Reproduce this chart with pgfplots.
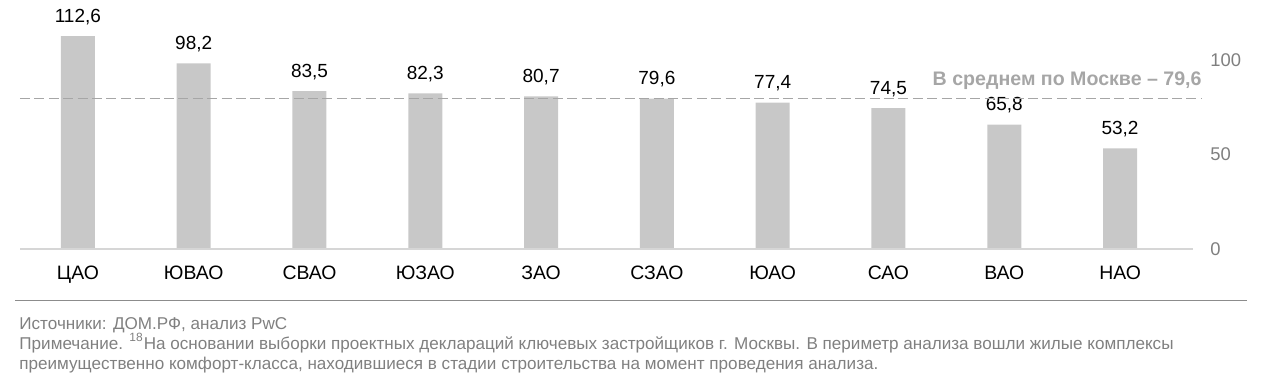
\documentclass[border=0pt]{standalone}
\usepackage{pgfplots}
\pgfplotsset{compat=1.18}
\usepackage{fontspec}
\setmainfont{Liberation Sans}
\definecolor{barc}{HTML}{C8C8C8}
\definecolor{basec}{HTML}{D6D6D6}
\definecolor{avgc}{HTML}{A6A6A6}
\definecolor{dashc}{HTML}{A6A6A6}
\definecolor{tickc}{HTML}{7F7F7F}
\definecolor{notec}{HTML}{808080}
\definecolor{sepc}{HTML}{8C8C8C}
\begin{document}
\begin{tikzpicture}
\useasboundingbox (-10pt,-64pt) rectangle (630pt,124.5pt);
\begin{axis}[
  at={(0,0)}, anchor=south west,
  scale only axis,
  width=586.5pt, height=122.85pt,
  xmin=-0.5, xmax=9.63,
  ymin=0, ymax=130,
  clip=false,
  axis line style={draw=none},
  tick style={draw=none},
  xtick={0,...,9},
  xticklabels={ЦАО,ЮВАО,СВАО,ЮЗАО,ЗАО,СЗАО,ЮАО,САО,ВАО,НАО},
  xticklabel style={font=\fontsize{9.7pt}{11pt}\selectfont, text=black, anchor=base, inner sep=0pt, yshift=-11.15pt},
  ytick={0,50,100},
  yticklabel pos=right,
  yticklabel style={font=\fontsize{9.2pt}{11pt}\selectfont, text=tickc, anchor=west, inner sep=0pt, xshift=8.5pt},
  /pgf/number format/assume math mode=true,
  ybar, bar width=17pt,
  point meta=explicit symbolic,
  nodes near coords,
  nodes near coords style={font=\fontsize{9.5pt}{11pt}\selectfont, text=black, anchor=base, inner sep=0pt, yshift=7pt},
]
\addplot[fill=barc, draw=none, bar shift=0pt] table[x=x, y=y, meta=lab] {
x y lab
0 112.6 112,6
1 98.2 98,2
2 83.5 83,5
3 82.3 82,3
4 80.7 80,7
5 79.6 79,6
6 77.4 77,4
7 74.5 74,5
8 65.8 65,8
9 53.2 53,2
};
\draw[basec, line width=1pt] (axis cs:-0.5,0) -- (axis cs:9.63,0);
\end{axis}
\begin{axis}[
  at={(0,0)}, anchor=south west,
  scale only axis,
  width=586.5pt, height=122.85pt,
  xmin=-0.5, xmax=9.63,
  ymin=0, ymax=130,
  clip=false,
  hide axis,
]
\addplot[dashc, line width=0.7pt, dash pattern=on 5pt off 2.2pt] coordinates {(-0.5,79.6) (9.70,79.6)};
\end{axis}
\node[anchor=base east, inner sep=0pt, text=avgc, font=\fontsize{9.8pt}{11pt}\selectfont\bfseries] at (591pt,82pt) {В среднем по Москве – 79,6};
\draw[sepc, line width=0.8pt] (-2.5pt,-25.75pt) -- (613.5pt,-25.75pt);
\begin{scope}[every node/.style={anchor=base west, inner sep=0pt, text=notec, font=\fontsize{8.55pt}{10pt}\selectfont}]
\node at (-0.5pt,-40pt) {Источники: ДОМ.РФ, анализ PwC};
\node at (-0.5pt,-50pt) {Примечание. \textsuperscript{18}На основании выборки проектных деклараций ключевых застройщиков г. Москвы. В периметр анализа вошли жилые комплексы};
\node at (-0.5pt,-60pt) {преимущественно комфорт-класса, находившиеся в стадии строительства на момент проведения анализа.};
\end{scope}
\end{tikzpicture}
\end{document}
